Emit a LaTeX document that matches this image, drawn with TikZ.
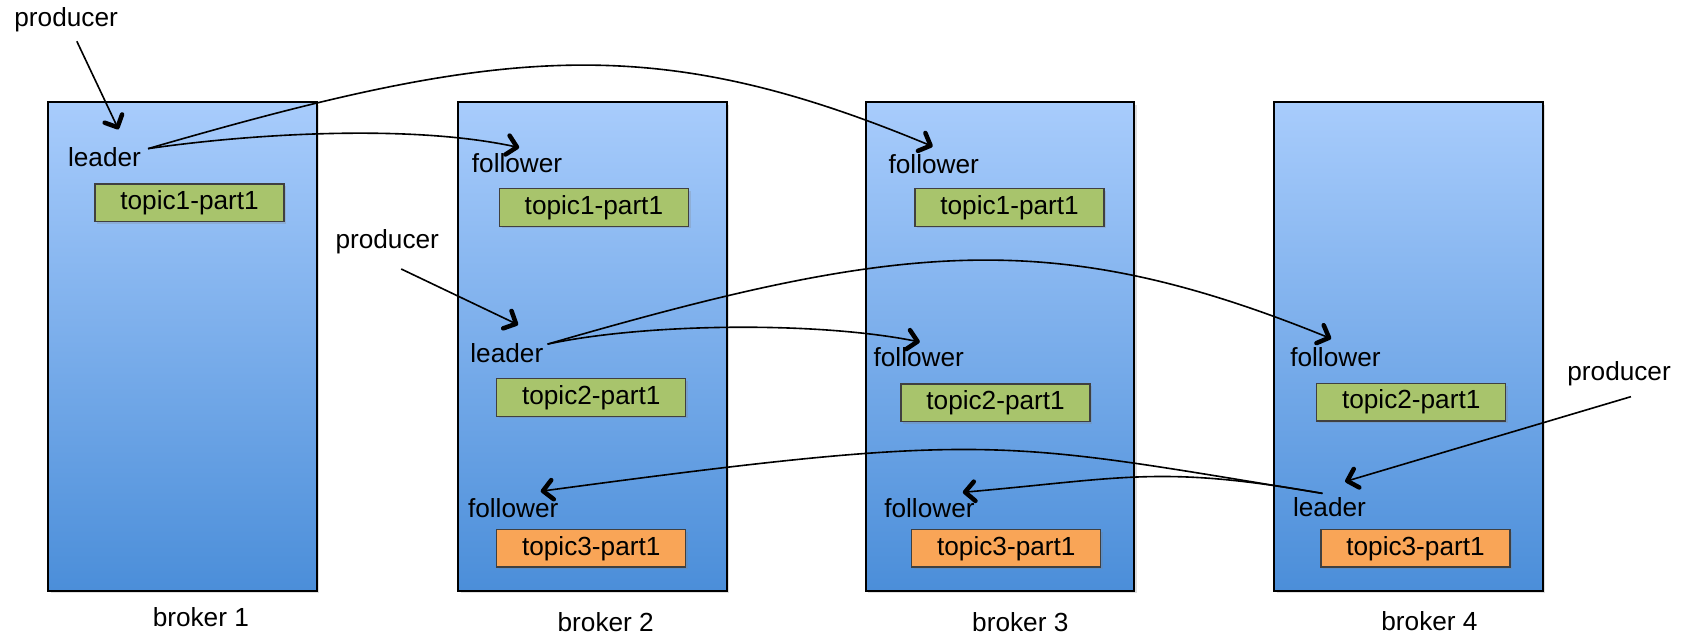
\documentclass[tikz,border=0pt]{standalone}
\usepackage{fontspec}
\setmainfont{Liberation Sans}
\usetikzlibrary{arrows.meta,shadows}
\definecolor{btop}{HTML}{A8CCFC}
\definecolor{bbot}{HTML}{4B8ED9}
\definecolor{tgreen}{HTML}{A8C46C}
\definecolor{torange}{HTML}{F9A557}
\begin{document}
\begin{tikzpicture}[x=0.5pt,y=-0.5pt,
  every node/.style={font=\fontsize{12.2}{14.6}\selectfont, inner sep=0pt},
  broker/.style={draw=black, line width=0.9pt, top color=btop, bottom color=bbot,
    minimum width=125pt, minimum height=227.5pt,
    drop shadow={shadow xshift=1.2pt,shadow yshift=-1.2pt,opacity=0.25}},
  topicbox/.style={draw=black!75, line width=0.6pt, minimum width=88pt, minimum height=17.5pt,
    drop shadow={shadow xshift=1pt,shadow yshift=-1pt,opacity=0.25}},
  lbl/.style={anchor=base west},
  blabel/.style={anchor=base},
  conn/.style={line width=0.75pt, -{Straight Barb[length=4.5pt,width=9pt,line width=2.1pt,round]}}
]
\useasboundingbox (0,0) rectangle (1568,592);

% brokers
\node[broker] (b1) at (170,322.5) {};
\node[broker] (b2) at (551.5,322.5) {};
\node[broker] (b3) at (931,322.5) {};
\node[broker] (b4) at (1311.5,322.5) {};

\node[blabel] (n1) at (187,583.5) {broker 1};
\node[blabel] (n2) at (564,588) {broker 2};
\node[blabel] (n3) at (950,588) {broker 3};
\node[blabel] (n4) at (1331,587) {broker 4};

% topic boxes
\node[topicbox, fill=tgreen] (t11) at (176.5,188.7) {topic1-part1};
\node[topicbox, fill=tgreen] (t12) at (553,193.2) {topic1-part1};
\node[topicbox, fill=tgreen] (t13) at (940,193.2) {topic1-part1};
\node[topicbox, fill=tgreen] (t22) at (550.5,370) {topic2-part1};
\node[topicbox, fill=tgreen] (t23) at (927,375) {topic2-part1};
\node[topicbox, fill=tgreen] (t24) at (1314,374.5) {topic2-part1};
\node[topicbox, fill=torange] (t32) at (550.5,510.5) {topic3-part1};
\node[topicbox, fill=torange] (t33) at (937,510.5) {topic3-part1};
\node[topicbox, fill=torange] (t34) at (1318,510.5) {topic3-part1};

% labels
\node[lbl] (p1) at (13,25) {producer};
\node[lbl] (l1) at (63,155) {leader};
\node[lbl] (f12) at (439,160.8) {follower};
\node[lbl] (f13) at (827,161.4) {follower};
\node[lbl] (p2) at (312,231) {producer};
\node[lbl] (l2) at (437.6,337.7) {leader};
\node[lbl] (f23) at (813,341.4) {follower};
\node[lbl] (f24) at (1201,341.4) {follower};
\node[lbl] (p3) at (1459,354.5) {producer};
\node[lbl] (f32) at (435.4,481.7) {follower};
\node[lbl] (f33) at (823,481.7) {follower};
\node[lbl] (l4) at (1203.6,481) {leader};

% producer arrows
\draw[conn] ([xshift=5pt,yshift=-4pt]p1.south) -- ([xshift=6.5pt,yshift=8.25pt]l1.north);
\draw[conn] ([xshift=6.5pt,yshift=-7pt]p2.south) -- ([xshift=5.25pt,yshift=8.6pt]l2.north);
\draw[conn] ([xshift=5.5pt,yshift=-4.7pt]p3.south) -- ([xshift=7.25pt,yshift=7.25pt]l4.north);

% replication arrows
\draw[conn] ([xshift=3.1pt,yshift=-0.75pt]l1.north east) .. controls (230,125) and (380,115) .. ([xshift=1pt,yshift=2.65pt]f12.north);
\draw[conn] ([xshift=3.1pt,yshift=-0.75pt]l1.north east) .. controls (467,43) and (608,28) .. ([xshift=-0.5pt,yshift=3.45pt]f13.north);
\draw[conn] ([xshift=1.8pt,yshift=-0.4pt]l2.north east) .. controls (600,301) and (760,299) .. ([xshift=0.5pt,yshift=2.45pt]f23.north);
\draw[conn] ([xshift=1.8pt,yshift=-0.4pt]l2.north east) .. controls (839,225) and (980,210) .. ([xshift=-2pt,yshift=4pt]f24.north);
\draw[conn] ([xshift=-3.25pt,yshift=1.75pt]l4.north) .. controls (931,410.5) and (926,400.5) .. ([xshift=12.8pt,yshift=3.1pt]f32.north);
\draw[conn] ([xshift=-3.25pt,yshift=1.75pt]l4.north) .. controls (1081,433) and (1048,445) .. ([xshift=15.5pt,yshift=2.6pt]f33.north);
\end{tikzpicture}
\end{document}
